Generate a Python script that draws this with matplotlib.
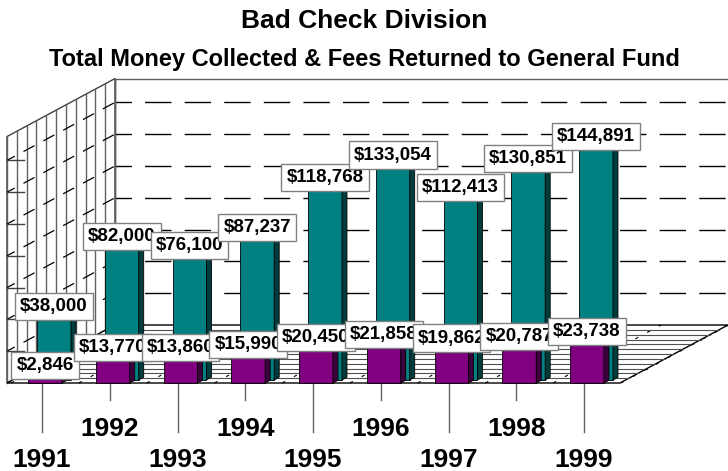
# Bad Check Division - 3D-style column chart (old Excel look)

import numpy as np
import matplotlib
matplotlib.use("Agg")
import matplotlib.pyplot as plt
from matplotlib.patches import Polygon
from matplotlib.collections import PolyCollection

plt.rcParams['font.family'] = ['Liberation Sans', 'DejaVu Sans']

# -----------------------------
# Data
# -----------------------------
years = ['1991', '1992', '1993', '1994', '1995', '1996', '1997', '1998', '1999']
collected = [38000, 82000, 76100, 87237, 118768, 133054, 112413, 130851, 144891]
fees = [2846, 13770, 13860, 15990, 20450, 21858, 19862, 20787, 23738]

teal = '#008080'
teal_side = '#003c3c'
teal_top = '#00a0a0'
purple = '#800080'
purple_side = '#3c003c'
purple_top = '#a000a0'

# -----------------------------
# Fake 3D geometry (data units: x = category, y = dollars)
# -----------------------------
xlim = (-0.664, 10.081)
ylim = (-55346, 240881)
depth = (1.594, 36478)          # floor depth vector
floor_x = (-0.561, 8.487)       # front edge of floor
wall_h = 155000                 # wall height at the front
bar_w = 0.5
side = (0.074, 1700)            # visible side depth of each bar
back_shift = (0.133, 1900)      # teal row sits slightly behind

fig = plt.figure(figsize=(7.28, 4.71), dpi=100)
ax = fig.add_axes([0, 0, 1, 1])
ax.set_xlim(*xlim)
ax.set_ylim(*ylim)
ax.axis('off')

x = np.arange(len(years))

# back wall
bx0 = floor_x[0] + depth[0]
ax.add_patch(Polygon([(bx0, depth[1]), (xlim[1] + 1, depth[1]),
                      (xlim[1] + 1, wall_h + depth[1]), (bx0, wall_h + depth[1])],
                     closed=True, facecolor='white', edgecolor='none', zorder=0))
ax.plot([bx0, xlim[1]], [wall_h + depth[1]] * 2, color='#606060', lw=1, zorder=1)
ax.plot([bx0, bx0], [depth[1], wall_h + depth[1]], color='#404040', lw=1, zorder=1)
for v in range(20000, 150000, 20000):
    ax.plot([bx0 - 0.15, xlim[1]], [v + depth[1]] * 2, color='black', lw=1,
            linestyle=(0, (19, 9.5)), zorder=1)

# left wall
ax.add_patch(Polygon([(floor_x[0], 0), (bx0, depth[1]), (bx0, wall_h + depth[1]),
                      (floor_x[0], wall_h)], closed=True, facecolor='white',
                     edgecolor='#404040', lw=1, zorder=1))
for t in np.linspace(0, 1, 12):
    xv = floor_x[0] + t * depth[0]
    ax.plot([xv, xv], [t * depth[1], wall_h + t * depth[1]],
            color='#606060', lw=1, zorder=1)
for v in range(20000, 150000, 20000):
    ax.plot([floor_x[0], bx0], [v, v + depth[1]], color='black', lw=0.9,
            linestyle=(3, (10, 8)), zorder=1)
    ax.plot([floor_x[0], floor_x[0] + 0.25], [v, v], color='#404040', lw=1, zorder=1)

# floor
ax.add_patch(Polygon([(floor_x[0], 0), (floor_x[1], 0),
                      (floor_x[1] + depth[0], depth[1]), (floor_x[0] + depth[0], depth[1])],
                     closed=True, facecolor='white', edgecolor='black', lw=1, zorder=1))
for t in np.linspace(0, 1, 13)[1:-1]:
    ax.plot([floor_x[0] + t * depth[0], floor_x[1] + t * depth[0]],
            [t * depth[1]] * 2, color='#505050', lw=0.8, zorder=1)
for xb in np.arange(len(years) + 1) - 0.5:
    ax.plot([xb, xb + depth[0]], [0, depth[1]], color='black', lw=0.8,
            linestyle=(0, (3, 9)), zorder=1)


def draw_bars(xc, bottom, heights, front, side_col, top_col, z):
    ax.bar(xc, heights, width=bar_w, bottom=bottom, color=front,
           edgecolor='black', linewidth=0.6, zorder=z)
    sides, tops = [], []
    for xi, h in zip(xc, heights):
        xl, xr = xi - bar_w / 2, xi + bar_w / 2
        top = bottom + h
        sides.append([(xr, bottom), (xr + side[0], bottom + side[1]),
                      (xr + side[0], top + side[1]), (xr, top)])
        tops.append([(xl, top), (xr, top), (xr + side[0], top + side[1]),
                     (xl + side[0], top + side[1])])
    ax.add_collection(PolyCollection(sides, facecolors=side_col, edgecolors='black',
                                     linewidths=0.6, zorder=z))
    ax.add_collection(PolyCollection(tops, facecolors=top_col, edgecolors='black',
                                     linewidths=0.6, zorder=z))


xt = x + back_shift[0]
draw_bars(xt, back_shift[1], collected, teal, teal_side, teal_top, 3)
draw_bars(x, 0, fees, purple, purple_side, purple_top, 4)

# -----------------------------
# Value labels
# -----------------------------
box = dict(boxstyle='square,pad=0.27', facecolor='white', edgecolor='#808080', lw=1)
for i, v in enumerate(collected):
    ax.annotate(f"${v:,}", (xt[i], v + back_shift[1]), xytext=(0, 3.5),
                textcoords='offset points', ha='center', va='bottom',
                fontsize=13.5, fontweight='bold', bbox=box, zorder=10 + i)
for i, v in enumerate(fees):
    ax.annotate(f"${v:,}", (x[i], v), xytext=(0, 3.5),
                textcoords='offset points', ha='center', va='bottom',
                fontsize=13.5, fontweight='bold', bbox=box, zorder=20 + i)

# -----------------------------
# Category axis (staggered)
# -----------------------------
tick_x = x - 0.044
for i, yr in enumerate(years):
    low = i % 2 == 0
    ax.plot([tick_x[i]] * 2, [0, -30800 if low else -10700], color='#606060', lw=1, zorder=2)
    ax.text(tick_x[i], -52600 if low else -33100, yr, ha='center', va='baseline',
            fontsize=19, fontweight='bold')

fig.text(0.5, 0.9406, "Bad Check Division", ha='center', va='baseline',
         fontsize=19, fontweight='bold')
fig.text(0.5, 0.8599, "Total Money Collected & Fees Returned to General Fund",
         ha='center', va='baseline', fontsize=17, fontweight='bold')

fig.savefig("out.png", dpi=100)
